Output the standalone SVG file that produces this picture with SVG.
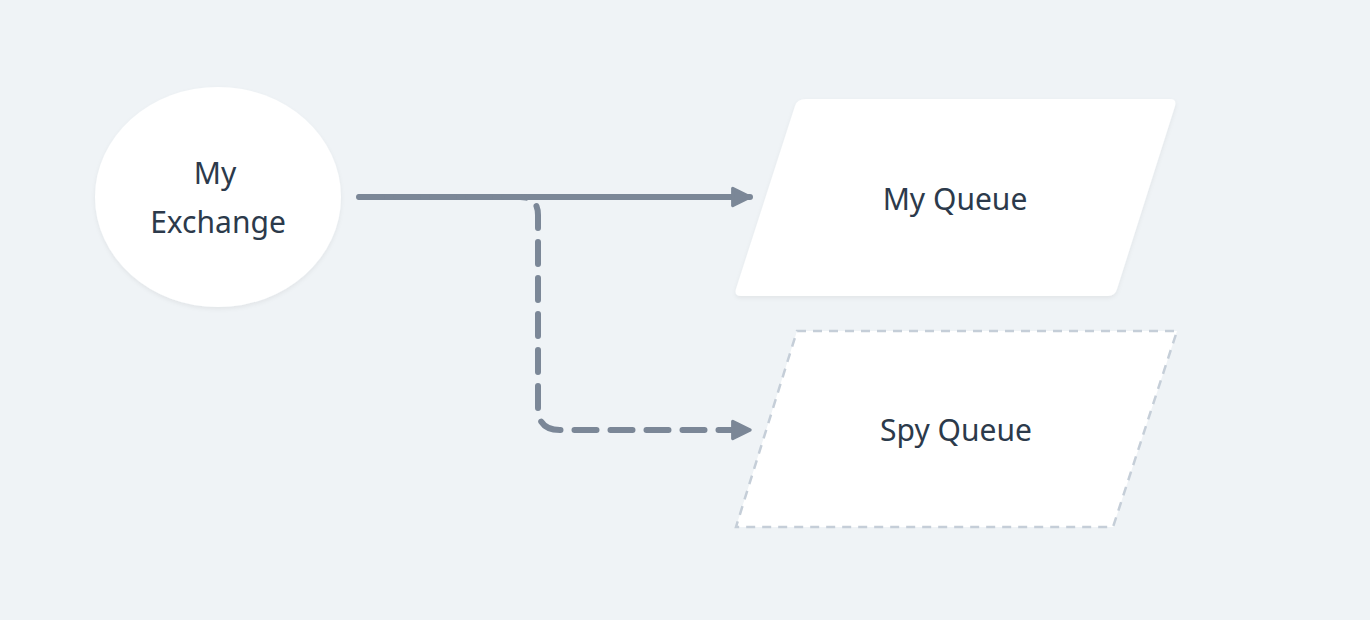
<svg xmlns="http://www.w3.org/2000/svg" width="1370" height="620" viewBox="0 0 1370 620">
<style>
text{font-family:"Noto Sans","Liberation Sans",sans-serif;font-size:30px;fill:#2c3a4b;text-anchor:middle}
.node{fill:#ffffff}
.conn{fill:none;stroke:#7b8797;stroke-width:6;stroke-linecap:round;stroke-linejoin:round}
</style>
<defs>
<marker id="ah" viewBox="0 0 10 10" refX="9" refY="5" markerWidth="3.6" markerHeight="3.6" orient="auto" markerUnits="strokeWidth">
<path d="M1,1 L9,5 L1,9 Z" fill="#7b8797" stroke="#7b8797" stroke-width="1.5" stroke-linejoin="round"/>
</marker>
<filter id="sh" x="-10%" y="-10%" width="120%" height="130%"><feDropShadow dx="0" dy="2" stdDeviation="2" flood-color="#000" flood-opacity="0.06"/></filter>
</defs>
<rect width="1370" height="620" fill="#eff3f6"/>
<g id="my-exchange">
<ellipse class="node" cx="218" cy="197" rx="123" ry="110" filter="url(#sh)"/>
<text x="215" y="184">My</text>
<text x="218" y="233">Exchange</text>
</g>
<g id="my-queue">
<path class="node" filter="url(#sh)" d="M806,99 L1170,99 Q1177,99 1175,106 L1117,289 Q1115,296 1108,296 L741,296 Q734,296 736,289 L795,106 Q797,99 806,99 Z"/>
<text x="955" y="210">My Queue</text>
</g>
<g id="spy-queue">
<path class="node" d="M797,331 L1177,331 L1113,527 L736,527 Z" stroke="#c5ced8" stroke-width="2.5" stroke-dasharray="9 7"/>
<text x="956" y="441">Spy Queue</text>
</g>
<g id="connectors">
<path class="conn" d="M359,197 L750,197" marker-end="url(#ah)"/>
<path class="conn" d="M360,197 L520,197 Q538,197 538,215 L538,408 Q538,430 560,430 L750,430" stroke-dasharray="22 14" marker-end="url(#ah)"/>
</g>
</svg>
